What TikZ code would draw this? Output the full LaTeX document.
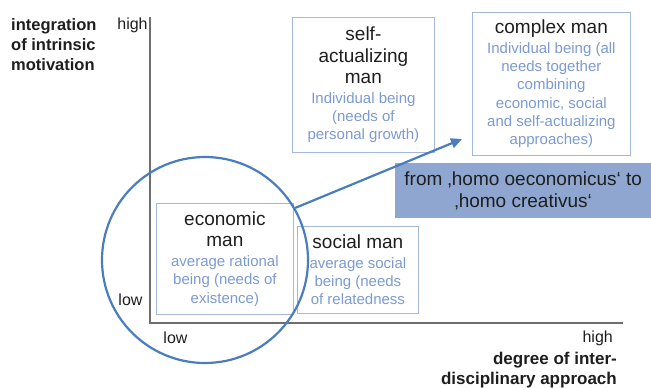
\documentclass[tikz,border=0pt]{standalone}
\usepackage{fontspec}
\setmainfont{Liberation Sans}
\usetikzlibrary{arrows.meta}

\definecolor{boxline}{HTML}{A3B8DD}
\definecolor{desctext}{HTML}{7C9AD2}
\definecolor{ringblue}{HTML}{4A7DBD}
\definecolor{bandfill}{HTML}{8FA7D0}
\definecolor{axisgray}{HTML}{6E6E6E}
\definecolor{ink}{HTML}{1E1E1E}

% word spaces of fixed width (no stretching in centred lines)
\newcommand\fixspace{\spaceskip=\fontdimen2\font\relax}
% title lines and description lines of a box
\newcommand\boxtitle[1]{{\fontsize{19}{21.5}\selectfont\fixspace\color{ink}#1\par}}
\newcommand\boxdesc[1]{{\vskip1.5pt\fontsize{15}{18.3}\selectfont\fixspace\color{desctext}#1\par}}
% the two lines inside the highlighted band
\newcommand\bandtext[1]{{\fontsize{19}{22}\selectfont\fixspace\color{ink}#1\par}}

\tikzset{
  typebox/.style={draw=boxline, line width=0.8pt, inner sep=0pt, align=center,
    anchor=north west},
  axislabel/.style={font=\bfseries\fontsize{16.5}{20}\selectfont, text=ink, inner sep=0pt},
  ticklabel/.style={font=\fontsize{16}{19}\selectfont, text=ink, inner sep=0pt},
}

\begin{document}
\begin{tikzpicture}[x=1pt, y=-1pt]
\useasboundingbox (0,0) rectangle (651,388);

% axes
\coordinate (ytop) at (150,17);
\coordinate (origin) at (150,323);
\coordinate (xend) at (623,323);
\draw[axisgray, line width=1.3pt] (ytop) -- (origin) -- (xend);

% axis labels
\node[axislabel, anchor=west, align=left] (ylabel) at (11,45)
  {integration\\of intrinsic\\motivation};
\node[ticklabel] (yhigh) at (132.5,25) {high};
\node[ticklabel] (ylow) at (130.5,300) {low};
\node[ticklabel] (xlow) at (175.5,338) {low};
\node[ticklabel, anchor=east] (xhigh) at (613,338) {high};
\node[axislabel, anchor=east, align=right,
  font=\bfseries\fontsize{17}{20}\selectfont] (xlabel) at (617,370)
  {degree of inter-\\disciplinary approach};

% the four types of man
\node[typebox, text width=137pt, minimum height=111pt] (econ) at (156,203)
  {\boxtitle{economic\\man}\boxdesc{average rational\\being (needs of\\existence)}};
\node[typebox, text width=121pt, minimum height=87pt] (social) at (297,226)
  {\boxtitle{social man}\boxdesc{average social\\being (needs\\of relatedness}};
\node[typebox, text width=142pt, minimum height=135pt] (selfact) at (292,17)
  {\boxtitle{self-\\actualizing\\man}\boxdesc{Individual being\\(needs of\\personal growth)}};
\node[typebox, text width=158pt, minimum height=143pt] (complex) at (472,12)
  {\boxtitle{complex man}\boxdesc{Individual being (all\\needs together\\combining\\economic, social\\and self-actualizing\\approaches)}};

% highlighted band
\node[fill=bandfill, anchor=north west, inner sep=0pt, text width=256pt,
  minimum height=55pt, align=center] (band) at (395,163)
  {\bandtext{from ‚homo oeconomicus‘ to\\‚homo creativus‘}};

% circle around the economic man and the arrow leading away
\node[circle, draw=ringblue, line width=2.2pt, minimum size=206pt, inner sep=0pt]
  (ring) at (205,260) {};
\coordinate (tip) at (462,139);
\draw[ringblue, line width=2.2pt, -{Triangle[length=11pt,width=10pt]}]
  (ring.30.6) -- (tip);
\end{tikzpicture}
\end{document}
